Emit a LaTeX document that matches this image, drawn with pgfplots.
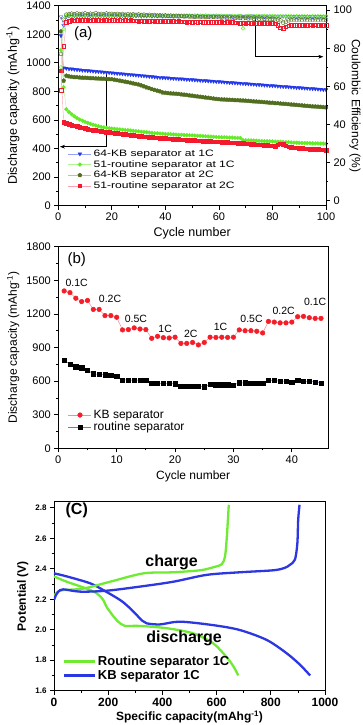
\documentclass[border=0pt]{standalone}
\usepackage{fontspec}
\setmainfont{Liberation Sans}
\newfontfamily\legA[FakeStretch=1.3]{Liberation Sans}
\usepackage{pgfplots}
\usepackage{pgfplotstable}
\pgfplotsset{compat=1.18}
\usetikzlibrary{arrows.meta, plotmarks}

\definecolor{blueM}{RGB}{35,55,235}
\definecolor{blueL}{RGB}{150,165,250}
\definecolor{greenM}{RGB}{100,235,40}
\definecolor{greenL}{RGB}{175,245,145}
\definecolor{oliveM}{RGB}{80,110,30}
\definecolor{oliveL}{RGB}{185,200,150}
\definecolor{redM}{RGB}{245,25,45}
\definecolor{redL}{RGB}{250,160,175}
\definecolor{kbRed}{RGB}{245,30,40}
\definecolor{kbLine}{RGB}{250,140,150}
\definecolor{rtLine}{RGB}{120,120,170}
\definecolor{greenC}{RGB}{110,235,50}
\definecolor{blueC}{RGB}{45,55,225}

% cycling at 1C / 2C: capacity (mAh/g) and coulombic efficiency (%)
\pgfplotstableread{
c B G O R bc gc oc rc
1 1190 1090 1220 945 96.5 70.0 77.0 58.0
2 965 830 875 585 92.0 90.0 95.0 81.0
3 962 675 910 578 96.6 96.8 97.6 93.6
4 958 655 905 571 96.9 97.2 97.9 94.3
5 957 640 902 565 96.8 97.1 98.1 94.6
6 955 625 900 560 97.0 97.3 97.8 94.5
7 952 613 899 555 96.9 97.2 98.2 94.7
8 951 603 897 550 97.1 97.4 97.9 94.6
9 948 595 896 545 96.9 97.3 98.0 94.8
10 947 587 895 541 97.0 97.2 98.3 94.6
11 945 580 894 537 97.1 97.4 97.8 94.7
12 944 573 893 533 96.9 97.3 98.1 94.5
13 942 567 892 530 97.0 97.2 97.9 94.8
14 940 561 891 527 97.1 97.4 98.4 94.6
15 939 556 890 524 96.9 97.3 97.9 94.7
16 937 552 889 521 97.0 97.2 98.0 94.5
17 935 548 888 518 97.1 97.4 97.8 94.7
18 933 545 887 516 96.9 97.3 98.2 94.6
19 932 542 886 513 97.0 97.2 97.9 94.5
20 930 540 885 511 97.1 97.3 98.0 94.6
21 928 538 882 509 96.9 97.3 97.8 94.6
22 926 536 878 506 97.1 97.1 98.0 94.5
23 925 534 875 504 96.8 97.4 97.7 94.7
24 923 532 871 501 97.0 97.2 97.9 94.5
25 921 530 868 499 96.9 97.3 97.6 94.6
26 919 528 864 497 97.1 97.1 97.9 94.4
27 918 526 860 495 96.8 97.4 97.6 94.6
28 916 524 856 492 97.0 97.2 97.8 94.4
29 914 522 852 490 96.9 97.3 97.5 94.5
30 913 520 848 488 97.1 97.1 97.7 94.3
31 911 518 842 486 96.8 97.3 97.4 94.5
32 909 516 835 484 97.0 97.2 97.6 94.3
33 907 514 828 482 96.9 97.3 97.3 94.4
34 905 512 822 481 97.1 97.1 97.5 94.2
35 903 510 815 479 96.8 97.3 97.2 94.4
36 901 508 810 477 97.0 97.2 97.4 94.2
37 899 507 805 476 96.9 97.3 97.1 94.3
38 897 505 800 474 97.1 97.1 97.3 94.1
39 896 504 792 472 96.8 97.3 97.0 94.3
40 895 502 790 471 97.0 97.2 97.2 94.1
41 894 501 788 470 96.9 97.2 96.9 94.2
42 892 500 786 468 97.0 97.0 97.1 94.0
43 891 499 785 467 96.8 97.2 96.8 94.1
44 890 498 783 465 97.0 97.1 97.0 93.9
45 888 497 782 464 96.9 97.2 96.7 94.1
46 887 496 779 463 97.0 97.0 96.9 93.9
47 886 495 777 461 96.8 97.2 96.6 94.0
48 884 494 775 460 97.0 97.1 96.8 93.8
49 883 493 772 459 96.9 97.2 96.5 94.0
50 882 492 770 458 96.9 97.0 96.7 93.8
51 880 491 767 457 96.8 97.2 96.4 93.9
52 879 490 765 456 97.0 97.1 96.6 93.7
53 877 489 762 454 96.8 97.1 96.3 93.9
54 876 487 760 453 96.9 97.0 96.5 93.7
55 875 486 757 452 96.8 97.2 96.3 93.8
56 873 485 755 451 97.0 97.0 96.4 93.6
57 872 484 752 450 96.8 97.1 96.2 93.8
58 871 482 750 449 96.9 97.0 96.4 93.6
59 869 481 747 448 96.8 97.1 96.2 93.7
60 868 480 745 447 96.9 97.0 96.3 93.6
61 867 479 744 446 96.7 97.0 96.0 93.6
62 865 479 743 445 96.9 96.9 96.2 93.4
63 864 478 742 443 96.7 97.0 95.9 93.5
64 862 477 741 442 96.9 96.9 96.1 93.3
65 861 477 740 441 96.7 97.0 95.8 93.5
66 860 476 739 440 96.8 96.8 96.0 93.3
67 858 475 738 438 96.7 97.0 95.8 93.4
68 857 474 737 437 96.9 96.9 95.9 93.2
69 855 460 736 436 96.7 90.4 95.7 93.4
70 854 458 735 434 96.8 96.9 95.9 93.2
71 853 457 733 433 96.7 97.0 95.6 93.3
72 851 457 732 431 96.9 96.8 95.8 93.1
73 850 456 730 430 96.7 96.9 95.5 93.3
74 848 455 729 428 96.8 96.8 95.7 93.1
75 847 454 727 427 96.7 96.9 95.5 93.2
76 846 453 726 426 96.8 96.8 95.6 93.0
77 844 452 724 424 96.6 96.9 95.4 93.2
78 843 451 723 423 96.8 96.8 95.6 93.0
79 841 451 721 421 96.6 96.9 95.3 93.1
80 840 450 720 420 96.8 96.8 95.5 93.0
81 839 449 718 418 96.6 96.8 95.2 92.9
82 837 448 717 428 96.8 96.7 95.0 92.0
83 836 447 715 433 96.6 96.8 94.6 90.8
84 834 446 713 430 96.8 96.7 93.4 90.4
85 833 445 712 420 96.6 96.8 93.9 91.2
86 832 444 710 412 96.7 96.7 94.6 91.8
87 830 443 708 410 96.6 96.8 94.9 92.0
88 829 442 707 407 96.7 96.7 95.1 92.2
89 827 441 705 405 96.6 96.8 94.9 92.0
90 826 440 703 402 96.7 96.7 95.1 92.2
91 824 439 702 401 96.5 96.8 94.9 92.0
92 823 439 700 400 96.7 96.7 95.1 92.2
93 822 438 698 399 96.5 96.8 94.9 92.1
94 820 438 697 397 96.7 96.7 95.1 92.3
95 819 437 695 396 96.5 96.8 94.9 92.1
96 818 436 694 395 96.7 96.7 95.1 92.3
97 816 436 693 394 96.5 96.8 94.9 92.1
98 815 435 691 392 96.7 96.7 95.1 92.3
99 813 435 690 391 96.5 96.8 94.9 92.1
100 812 434 688 390 96.6 96.7 95.0 92.2
}\cycA

% rate capability
\pgfplotstableread{
c kb rt
1 1405 788
2 1390 750
3 1340 729
4 1310 720
5 1320 699
6 1240 664
7 1240 660
8 1185 656
9 1185 650
10 1170 641
11 1057 610
12 1060 610
13 1075 608
14 1065 608
15 1060 606
16 982 580
17 1000 580
18 988 579
19 985 580
20 992 577
21 937 554
22 937 553
23 945 552
24 923 552
25 945 549
26 992 570
27 990 569
28 992 569
29 990 567
30 992 565
31 1057 585
32 1050 584
33 1050 583
34 1045 583
35 1030 580
36 1133 608
37 1127 606
38 1120 600
39 1120 600
40 1127 590
41 1175 610
42 1178 598
43 1166 598
44 1160 592
45 1160 582
}\rate

\pgfplotsset{
  base/.style={
    scale only axis, anchor=south west,
    tick align=outside,
    major tick length=4pt, minor tick length=2pt,
    every tick/.style={black, line width=0.8pt},
    axis line style={line width=0.9pt},
    /pgf/number format/assume math mode=true,
    /pgf/number format/1000 sep={},
  },
  dotleg/.style={
    legend image code/.code={\draw[mark repeat=2,mark phase=2,##1] plot coordinates {(0pt,0pt) (11.5pt,0pt) (23pt,0pt)};},
  },
}

\begin{document}
\begin{tikzpicture}
\useasboundingbox (0,0) rectangle (363pt,-725pt);

% ---------- (a) ----------
\begin{axis}[base, tick pos=left,
  at={(58.3pt,-205.7pt)}, width=267.7pt, height=200pt,
  xmin=0, xmax=100, ymin=0, ymax=1400,
  xtick={0,20,...,100}, minor x tick num=1,
  ytick={0,200,...,1400}, minor y tick num=1,
  ticklabel style={font=\fontsize{11}{13}\selectfont},
  xlabel={Cycle number}, ylabel={Discharge capacity (mAhg\textsuperscript{-1})},
  label style={font=\fontsize{12.5}{14}\selectfont},
  dotleg, legend cell align=left,
  legend style={at={(0.025,0.3)}, anchor=north west, draw=none, fill=none,
    font=\legA\fontsize{9.3}{11}\selectfont, row sep=-1.5pt},
]
\addplot[blueL, line width=0.4pt, mark=triangle*, mark size=2.1pt,
  mark options={rotate=180, fill=blueM, draw=blueM}] table[x=c,y=B]{\cycA};
\addlegendentry{64-KB separator at 1C}
\addplot[greenL, line width=0.4pt, mark=*, mark size=1.9pt,
  mark options={fill=greenM, draw=greenM}] table[x=c,y=G]{\cycA};
\addlegendentry{51-routine separator at 1C}
\addplot[oliveL, line width=0.4pt, mark=pentagon*, mark size=2.1pt,
  mark options={fill=oliveM, draw=oliveM}] table[x=c,y=O]{\cycA};
\addlegendentry{64-KB separator at 2C}
\addplot[redL, line width=0.4pt, mark=square*, mark size=1.8pt,
  mark options={fill=redM, draw=redM}] table[x=c,y=R]{\cycA};
\addlegendentry{51-routine separator at 2C}
\node[font=\fontsize{15}{17}\selectfont] at (axis cs:9.3,1202) {(a)};
\draw[line width=0.6pt, -{Stealth[length=5pt]}] (axis cs:18,930) -- (axis cs:18,413) -- (axis cs:0.6,413);
\draw[line width=0.6pt, -{Stealth[length=5pt]}] (axis cs:73.5,1320) -- (axis cs:73.5,1043) -- (axis cs:99,1043);
\end{axis}

\begin{axis}[base,
  at={(58.3pt,-205.7pt)}, width=267.7pt, height=200pt,
  xmin=0, xmax=100, ymin=-2.6, ymax=102.3,
  axis x line=none, axis y line*=right,
  ytick pos=right, yticklabel pos=right,
  ytick={0,20,...,100}, minor y tick num=1,
  ticklabel style={font=\fontsize{11}{13}\selectfont},
  ylabel={Coulombic Efficiency (\%)},
  every axis y label/.style={at={(rel axis cs:1,0.5)}, anchor=center,
    xshift=29pt, rotate=-90, font=\fontsize{12}{14}\selectfont},
]
\addplot[blueL, line width=0.4pt, mark=triangle, mark size=2.1pt,
  mark options={rotate=180, draw=blueM}] table[x=c,y=bc]{\cycA};
\addplot[greenL, line width=0.4pt, mark=o, mark size=1.9pt,
  mark options={draw=greenM}] table[x=c,y=gc]{\cycA};
\addplot[oliveL, line width=0.4pt, mark=pentagon, mark size=2.1pt,
  mark options={draw=oliveM}] table[x=c,y=oc]{\cycA};
\addplot[redL, line width=0.4pt, mark=square, mark size=1.8pt,
  mark options={draw=redM}] table[x=c,y=rc]{\cycA};
\end{axis}

% ---------- (b) ----------
\begin{axis}[base, tick pos=left,
  at={(58.3pt,-448.3pt)}, width=269.7pt, height=201.6pt,
  xmin=0, xmax=46.2, ymin=0, ymax=1800,
  xtick={0,10,...,40}, minor x tick num=1,
  ytick={0,300,...,1800}, minor y tick num=1,
  ticklabel style={font=\fontsize{11}{13}\selectfont},
  xlabel={Cycle number}, ylabel={Discharge capacity (mAhg\textsuperscript{-1})},
  label style={font=\fontsize{12}{14}\selectfont},
  dotleg, legend cell align=left,
  legend style={at={(0.025,0.21)}, anchor=north west, draw=none, fill=none,
    font=\fontsize{12}{14}\selectfont, row sep=-2pt},
]
\addplot[kbLine, line width=0.5pt, mark=*, mark size=2.3pt,
  mark options={fill=kbRed, draw=kbRed}] table[x=c,y=kb]{\rate};
\addlegendentry{KB separator}
\addplot[rtLine, line width=0.5pt, mark=square*, mark size=2.2pt,
  mark options={fill=black, draw=black}] table[x=c,y=rt]{\rate};
\addlegendentry{routine separator}
\node[font=\fontsize{15}{17}\selectfont] at (axis cs:3.15,1681) {(b)};
\begin{scope}[font=\fontsize{10.5}{12}\selectfont]
\node at (axis cs:3.15,1473) {0.1C};
\node at (axis cs:8.86,1330) {0.2C};
\node at (axis cs:13.3,1152) {0.5C};
\node at (axis cs:18.3,1063) {1C};
\node at (axis cs:22.7,1021) {2C};
\node at (axis cs:27.8,1086) {1C};
\node at (axis cs:33.1,1152) {0.5C};
\node at (axis cs:38.6,1229) {0.2C};
\node at (axis cs:44.0,1309) {0.1C};
\end{scope}
\end{axis}

% ---------- (C) ----------
\begin{axis}[base, tick pos=left,
  at={(54pt,-690.7pt)}, width=271pt, height=189pt,
  xmin=0, xmax=1000, ymin=1.6, ymax=2.84,
  xtick={0,200,...,1000}, minor x tick num=1,
  ytick={1.6,1.8,2.0,2.2,2.4,2.6,2.8}, minor y tick num=1,
  xticklabel style={font=\bfseries\fontsize{12}{14}\selectfont},
  yticklabel style={font=\bfseries\fontsize{8}{10}\selectfont,
    /pgf/number format/.cd, fixed, fixed zerofill, precision=1},
  xlabel={Specific capacity(mAhg\textsuperscript{-1})}, ylabel={Potential (V)},
  xlabel style={yshift=3pt},
  label style={font=\bfseries\fontsize{12}{14}\selectfont},
  legend image code/.code={\draw[#1] (0pt,0pt) -- (31pt,0pt);},
  legend cell align=left,
  legend style={at={(0.02,0.205)}, anchor=north west, draw=none, fill=none,
    font=\bfseries\fontsize{13}{15}\selectfont, row sep=-1pt},
]
\addplot[greenC, line width=2.3pt, smooth] coordinates {
  (0,2.35) (47,2.315) (120,2.27) (157,2.24) (180,2.20) (194,2.15) (210,2.11)
  (225,2.075) (245,2.04) (262,2.025) (317,2.025) (416,2.01) (514,1.976)
  (588,1.91) (637,1.82) (662,1.76) (680,1.70)};
\addlegendentry{Routine separator 1C}
\addplot[blueC, line width=2.3pt, smooth] coordinates {
  (0,2.37) (47,2.35) (133,2.305) (182,2.26) (244,2.195) (275,2.15) (305,2.097)
  (325,2.06) (342,2.042) (391,2.035) (465,2.053) (588,2.03) (686,1.998)
  (785,1.933) (859,1.845) (908,1.77) (945,1.70)};
\addlegendentry{KB separator 1C}
\addplot[greenC, line width=2.3pt, smooth, forget plot] coordinates {
  (0,2.22) (10,2.245) (34,2.26) (108,2.27) (207,2.315) (330,2.37) (440,2.377)
  (539,2.39) (588,2.41) (619,2.43) (631,2.48) (637,2.59) (641,2.70) (645,2.82)};
\addplot[blueC, line width=2.3pt, smooth, forget plot] coordinates {
  (0,2.195) (8,2.23) (16,2.25) (34,2.265) (96,2.25) (194,2.256) (317,2.283)
  (440,2.315) (563,2.36) (686,2.377) (809,2.39) (850,2.405) (870,2.425)
  (889,2.46) (898,2.567) (901,2.72) (906,2.82)};
\node[font=\bfseries\fontsize{16}{18}\selectfont] at (axis cs:84,2.783) {(C)};
\node[font=\bfseries\fontsize{16}{18}\selectfont] at (axis cs:434,2.439) {charge};
\node[font=\bfseries\fontsize{16}{18}\selectfont] at (axis cs:480,1.944) {discharge};
\end{axis}
\end{tikzpicture}
\end{document}
